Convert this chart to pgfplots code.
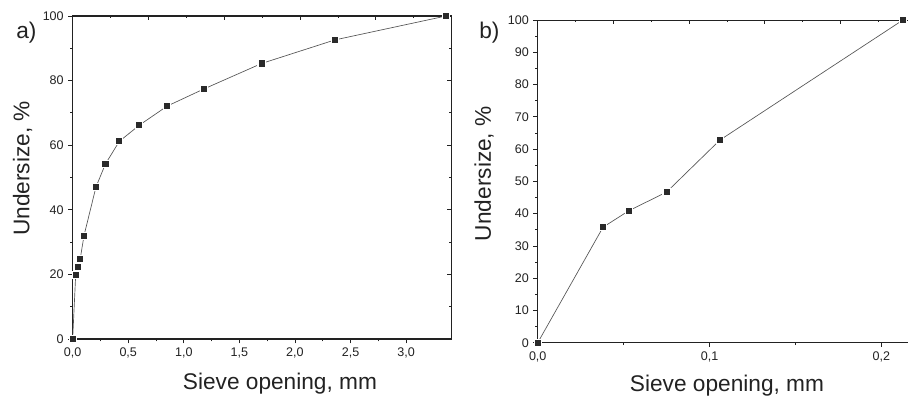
\documentclass[border=0pt]{standalone}
\usepackage{pgfplots}
\pgfplotsset{compat=1.18}
\usepackage{fontspec}
\setmainfont{Liberation Sans}

\definecolor{ink}{HTML}{222222}
\definecolor{curve}{HTML}{555555}
\definecolor{markfill}{HTML}{2A2A2A}

\pgfplotsset{
  sieveframe/.style={
    scale only axis, anchor=south west,
    axis line style={ink, line width=0.8pt},
    every tick/.style={ink, line width=0.6pt},
    major tick length=3.2pt, minor tick length=1.8pt,
    tick align=outside, xtick pos=left, ytick pos=left,
    ymin=0, ymax=100, xmin=0,
    ticklabel style={font=\fontsize{9.4}{11}\selectfont, text=ink},
    /pgf/number format/assume math mode=true,
    label style={font=\fontsize{17}{20}\selectfont, text=ink},
  },
  sievetop/.style={
    scale only axis, anchor=south west,
    axis line style={draw=none},
    every tick/.style={ink, line width=0.6pt},
    major tick length=3.2pt, minor tick length=1.8pt,
    tick align=inside, xtick pos=right, ytick pos=right,
    xmin=0, xmax=10, ymin=0, ymax=100,
    xtick={2,4,6,8}, minor xtick={1,3,5,7,9},
    xticklabels={}, yticklabels={},
  },
  sievecurve/.style={
    curve, line width=0.5pt, mark=square*,
    mark size=2.7pt,
    mark options={fill=markfill, draw=white, line width=0.8pt, solid},
  },
}

\begin{document}
\begin{tikzpicture}
\path[use as bounding box] (0pt,0pt) rectangle (681pt,299.25pt);

% panel a: full size range
\begin{axis}[sieveframe,
  at={(54.5pt,45pt)}, width=284.25pt, height=242.25pt,
  xmax=3.41,
  xtick={0,0.5,1,1.5,2,2.5,3}, minor x tick num=1,
  ytick={0,20,40,60,80,100}, minor y tick num=1,
  xticklabel={\pgfmathprintnumber[fixed, fixed zerofill, precision=1, use comma]{\tick}},
  xlabel={Sieve opening, mm}, ylabel={Undersize, \%},
  xlabel style={at={(axis description cs:0.547,-0.156)}, anchor=base},
  ylabel style={at={(axis description cs:-0.1145,0.528)}, anchor=base, rotate=0},
]
\addplot[sievecurve] coordinates {
  (0,0) (0.027,19.7) (0.048,22.3) (0.068,24.8) (0.102,32.0)
  (0.21,47.1) (0.295,54.2) (0.42,61.2) (0.60,66.2) (0.85,72.1)
  (1.18,77.4) (1.70,85.3) (2.36,92.6) (3.36,100)
};
\end{axis}
\begin{axis}[sievetop, at={(54.5pt,45pt)}, width=284.25pt, height=242.25pt,
  ytick={20,40,60,80}, minor ytick={10,30,50,70,90}]
\end{axis}
\node[anchor=base west, inner sep=0pt, font=\fontsize{17}{20}\selectfont, text=ink] at (12pt,270.5pt) {a)};

% panel b: fine fraction
\begin{axis}[sieveframe,
  at={(403.3pt,42.2pt)}, width=283.9pt, height=242pt,
  xmax=0.2203,
  xtick={0,0.1,0.2}, minor x tick num=1,
  ytick={0,10,...,100}, minor y tick num=1,
  xticklabel={\pgfmathprintnumber[fixed, fixed zerofill, precision=1, use comma]{\tick}},
  xlabel={Sieve opening, mm}, ylabel={Undersize, \%},
  xlabel style={at={(axis description cs:0.5,-0.152)}, anchor=base},
  ylabel style={at={(axis description cs:-0.124,0.524)}, anchor=base, rotate=0},
]
\addplot[sievecurve] coordinates {
  (0,0) (0.038,35.8) (0.053,40.9) (0.075,46.7) (0.106,62.8) (0.2125,100)
};
\end{axis}
\begin{axis}[sievetop, at={(403.3pt,42.2pt)}, width=283.9pt, height=242pt,
  ytick={20,40,60,80}, minor ytick={10,30,50,70,90}]
\end{axis}
\node[anchor=base west, inner sep=0pt, font=\fontsize{17}{20}\selectfont, text=ink] at (359.3pt,270.5pt) {b)};
\end{tikzpicture}
\end{document}
